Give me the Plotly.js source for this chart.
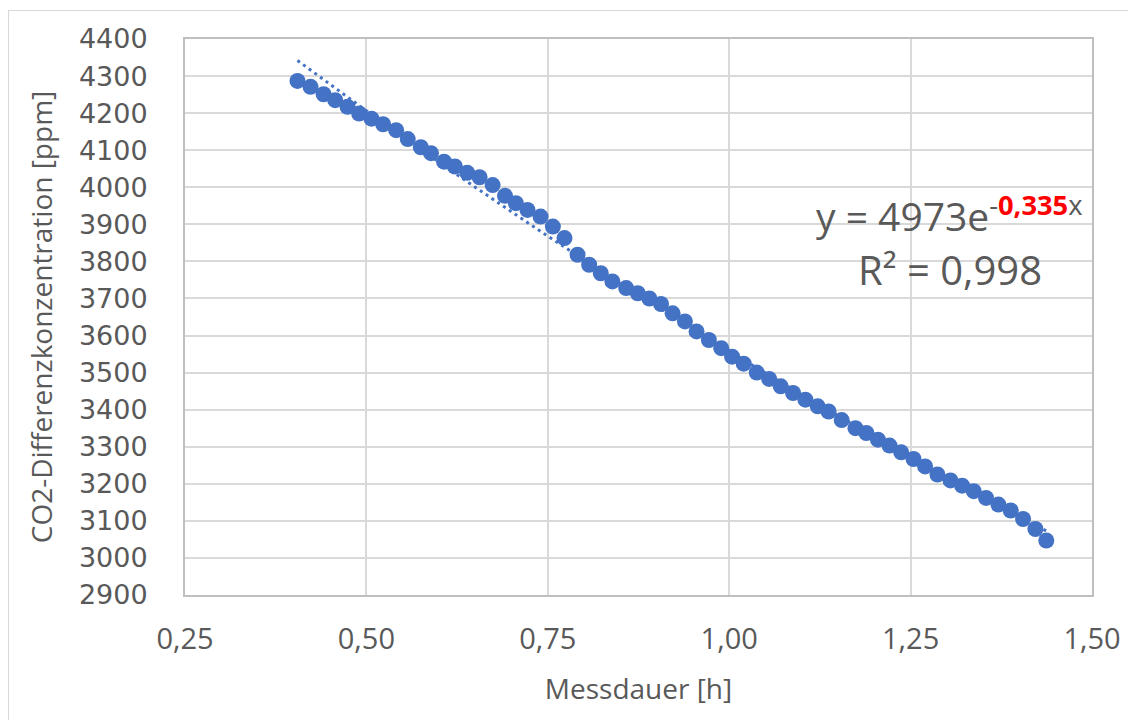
<!DOCTYPE html>
<html>
<head>
<meta charset="utf-8">
<script src="https://cdn.plot.ly/plotly-3.0.1.min.js"></script>
<style>
  html, body { margin: 0; padding: 0; background: #ffffff; }
  #frame { position: absolute; left: 8px; top: 10px; width: 1200px; height: 800px; border: 1px solid #d9d9d9; box-sizing: border-box; }
  #chart { position: absolute; left: 0; top: 0; width: 1128px; height: 720px; }
</style>
</head>
<body>
<div id="frame"></div>
<div id="chart"></div>
<script>
// Measurement duration [h]
const messdauer = [
  0.405, 0.423, 0.441, 0.457, 0.474, 0.490, 0.507, 0.523, 0.541, 0.557, 0.575, 0.589, 0.607, 0.622, 0.639, 0.656,
  0.674, 0.691, 0.706, 0.722, 0.740, 0.757, 0.773, 0.791, 0.807, 0.823, 0.839, 0.858, 0.874, 0.890,
  0.906, 0.922, 0.939, 0.955, 0.972, 0.989, 1.004, 1.020, 1.038, 1.055, 1.071, 1.088, 1.105, 1.122, 1.137,
  1.155,
  1.174, 1.189, 1.205, 1.221, 1.237, 1.254, 1.270, 1.287, 1.305, 1.321, 1.337, 1.354, 1.371, 1.388, 1.405, 1.422, 1.437
];
// CO2 difference concentration [ppm]
const co2Diff = [
  4287, 4271, 4251, 4235, 4217, 4199, 4185, 4170, 4154, 4130, 4108, 4092, 4069, 4056, 4039, 4027,
  4006, 3977, 3957, 3939, 3921, 3894, 3863, 3818, 3791, 3768, 3746, 3728, 3714, 3700,
  3685, 3660, 3638, 3611, 3588, 3566, 3543, 3524, 3500, 3483, 3463, 3445, 3427, 3409, 3395,
  3372,
  3350, 3337, 3319, 3303, 3285, 3267, 3247, 3225, 3209, 3195, 3180, 3162, 3144, 3128, 3105, 3078, 3047
];
// Exponential trendline coefficients shown on chart: y = a * e^(b x)
const trendA = 4973;
const trendB = -0.335;
const trendY = messdauer.map(x => trendA * Math.exp(trendB * x));

const blue = '#4472C4';
const grey = '#595959';

const data = [
  {
    x: messdauer, y: co2Diff, type: 'scatter', mode: 'markers',
    marker: { color: blue, size: 16, line: { width: 0 } },
    hoverinfo: 'x+y'
  },
  {
    x: messdauer, y: trendY, type: 'scatter', mode: 'lines',
    line: { color: blue, width: 3, dash: '3px,4px' },
    hoverinfo: 'skip'
  }
];

const layout = {
  width: 1128, height: 720,
  margin: { l: 185, r: 36, t: 39, b: 125 },
  paper_bgcolor: 'rgba(0,0,0,0)',
  plot_bgcolor: '#ffffff',
  showlegend: false,
  separators: ',.',
  xaxis: {
    range: [0.25, 1.5], dtick: 0.25, tick0: 0.25, tickformat: '.2f',
    showgrid: true, gridcolor: '#d9d9d9', gridwidth: 2,
    showline: true, linecolor: '#bfbfbf', linewidth: 2, mirror: true,
    zeroline: false, ticks: '',
    ticklabelstandoff: 17,
    tickfont: { family: 'Open Sans, sans-serif', size: 29, color: grey },
    title: { text: 'Messdauer [h]', font: { family: 'Open Sans, sans-serif', size: 28, color: grey }, standoff: 24 }
  },
  yaxis: {
    range: [2900, 4400], dtick: 100, tick0: 2900, tickformat: 'd',
    showgrid: true, gridcolor: '#d9d9d9', gridwidth: 2,
    showline: true, linecolor: '#bfbfbf', linewidth: 2, mirror: true,
    zeroline: false, ticks: '',
    ticklabelstandoff: 30,
    tickfont: { family: 'DejaVu Sans, sans-serif', size: 27, color: grey },
    title: { text: 'CO2-Differenzkonzentration [ppm]', font: { family: 'Open Sans, sans-serif', size: 28, color: grey }, standoff: 18 }
  },
  annotations: [
    {
      xref: 'paper', yref: 'paper', x: 0.693, y: 0.685, xanchor: 'left', yanchor: 'middle',
      text: 'y = 4973e<sup>-<b><span style="color:#ff0000">0,335</span></b>x</sup>',
      showarrow: false, font: { family: 'Open Sans, sans-serif', size: 39, color: grey }
    },
    {
      xref: 'paper', yref: 'paper', x: 0.74, y: 0.585, xanchor: 'left', yanchor: 'middle',
      text: 'R² = 0,998',
      showarrow: false, font: { family: 'Open Sans, sans-serif', size: 40, color: grey }
    }
  ]
};

Plotly.newPlot('chart', data, layout, { displayModeBar: false, staticPlot: true });
</script>
</body>
</html>
